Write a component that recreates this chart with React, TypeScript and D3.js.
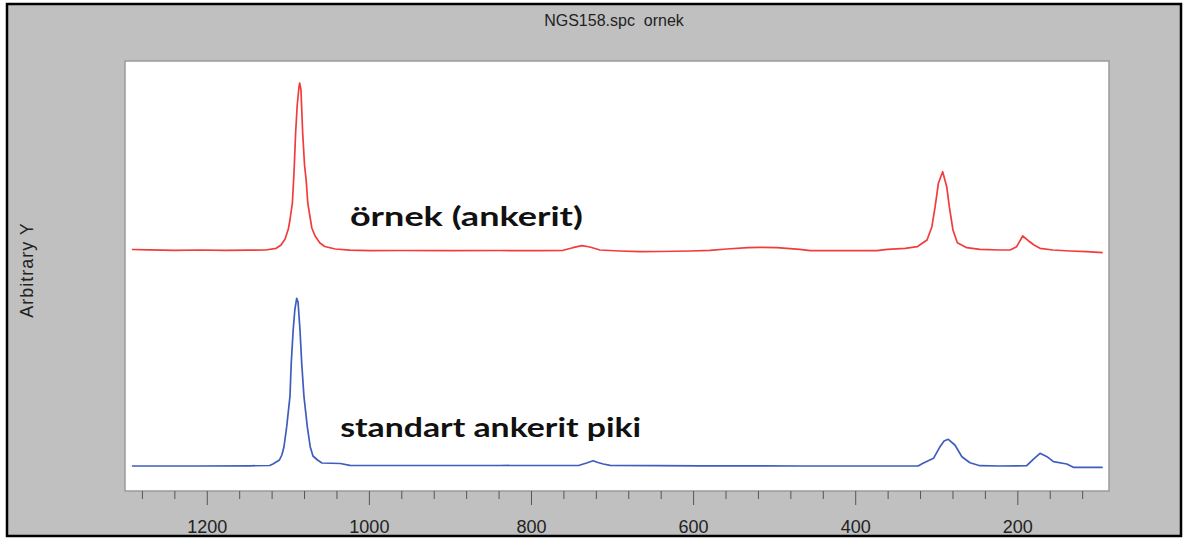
import React from 'react';
import * as d3 from 'd3';

// Raman shift (cm-1), with arbitrary intensity
const sampleShift = [1293, 1271, 1240, 1209, 1178, 1147, 1128, 1115, 1109, 1104, 1100, 1098, 1095, 1093, 1091, 1089, 1087, 1086, 1084.4, 1082.3, 1080, 1078, 1076, 1073, 1071, 1067, 1061, 1055, 1042, 1024, 999, 962, 901, 839, 790, 761, 749, 738, 728, 715.5, 691, 666, 641.5, 604, 580, 559, 533, 518, 497, 469, 456, 407, 374, 361, 339, 324, 321, 312, 306, 302, 298, 292.7, 287.7, 284.5, 280, 274.6, 263, 246.7, 222, 209.6, 201.4, 194, 187, 180, 172.6, 156.6, 135.6, 115, 95.3];
const sampleY = [241.5, 241.2, 240.7, 241, 240.6, 240.8, 241, 242.7, 246, 252, 262, 271, 288, 318, 358, 386, 403, 408, 401, 358, 326, 311, 288, 273, 263, 255, 248, 244.5, 242, 240.8, 240.3, 240.5, 240.3, 240.5, 240.3, 240.7, 243.3, 245.3, 244, 241, 240, 239.3, 239.5, 240, 240.7, 242, 243.3, 243.6, 243.3, 241.7, 240.3, 240.3, 240.3, 241.7, 242.7, 244.3, 246, 251, 264.3, 284.3, 307.7, 319.3, 304.3, 284.3, 261, 248.3, 243.3, 241.7, 241, 241, 244.3, 255, 250.3, 246, 242.7, 241, 240, 239.3, 238.3];

const standardShift = [1293, 1209, 1147, 1123, 1119, 1111, 1108, 1105.4, 1102, 1098, 1096.4, 1094, 1092, 1089.7, 1088, 1085.6, 1083.5, 1080.7, 1076.6, 1073, 1069.6, 1064, 1058.5, 1036, 1024, 962, 839, 741, 732, 724, 718, 711.4, 703, 592, 469, 345.5, 323, 317, 304, 296, 291, 285.8, 277.6, 269, 259, 246.7, 222, 189, 181, 172.6, 164, 156, 139.6, 131.5, 95.3];
const standardY = [25, 25, 25.2, 25.5, 27, 31, 36, 44, 64.3, 94.3, 128, 161, 181, 192.7, 189, 161, 128, 94.3, 64.3, 44.3, 35, 31, 28, 27.5, 25.7, 25.5, 25.5, 25.7, 28, 30.3, 28.5, 27, 25.7, 25.2, 25, 25, 25, 27.7, 32.7, 44.3, 50, 51.7, 46, 34.3, 28.3, 25.3, 25, 25.3, 31.7, 37.7, 34.3, 29.3, 27, 23.7, 23.7];

const tickLabels = [1200, 1000, 800, 600, 400, 200];
const minorTicks = d3.range(120, 1281, 40);

const W = 1186;
const H = 539;
const plot = { left: 125, top: 61, right: 1109, bottom: 491 };

export default function App() {
  const x = d3.scaleLinear().domain([1301.5, 87.5]).range([plot.left, plot.right]);
  const y = d3.scaleLinear().domain([0, 430]).range([plot.bottom, plot.top]);

  const line = d3.line<[number, number]>()
    .x(d => x(d[0]))
    .y(d => y(d[1]));

  const sample = sampleShift.map((s, i) => [s, sampleY[i]] as [number, number]);
  const standard = standardShift.map((s, i) => [s, standardY[i]] as [number, number]);

  const font = '"Liberation Sans", Arial, sans-serif';

  return (
    <svg width={W} height={H} style={{ position: 'absolute', left: 0, top: 0, display: 'block' }}>
      <rect x={0} y={0} width={W} height={H} fill="#fff" />
      <rect x={7} y={4} width={1174} height={532} fill="#c0c0c0" stroke="#000" strokeWidth={2.5} />
      <text x={614} y={26} textAnchor="middle" fontFamily={font} fontSize={16} fill="#222">
        {'NGS158.spc\u00a0\u00a0ornek'}
      </text>
      <text transform="translate(33,270) rotate(-90)" textAnchor="middle" fontFamily={font} fontSize={18}
        letterSpacing={1} fill="#222">Arbitrary Y</text>

      <rect x={plot.left} y={plot.top} width={plot.right - plot.left} height={plot.bottom - plot.top}
        fill="#fff" stroke="#9a9a9a" strokeWidth={1.5} />

      <path d={line(sample) || ''} fill="none" stroke="#f23c3c" strokeWidth={1.7} strokeLinejoin="round" />
      <path d={line(standard) || ''} fill="none" stroke="#3f5dbd" strokeWidth={1.7} strokeLinejoin="round" />

      <text x={x(1024)} y={y(265)} fontFamily="Lato, sans-serif" fontWeight="bold" fontSize={26}
        textLength={233} lengthAdjust="spacingAndGlyphs" fill="#111">örnek (ankerit)</text>
      <text x={x(1036)} y={y(54)} fontFamily="Lato, sans-serif" fontWeight="bold" fontSize={26}
        textLength={301} lengthAdjust="spacingAndGlyphs" fill="#111">standart ankerit piki</text>

      <g>
        {minorTicks.map(t => {
          const major = tickLabels.includes(t);
          return (
            <line key={t} x1={x(t)} x2={x(t)} y1={plot.bottom} y2={plot.bottom + (major ? 14 : 8)}
              stroke="#555" strokeWidth={1} />
          );
        })}
        {tickLabels.map(t => (
          <text key={t} x={x(t)} y={533} textAnchor="middle" fontFamily={font} fontSize={18} fill="#222">{t}</text>
        ))}
      </g>
    </svg>
  );
}
